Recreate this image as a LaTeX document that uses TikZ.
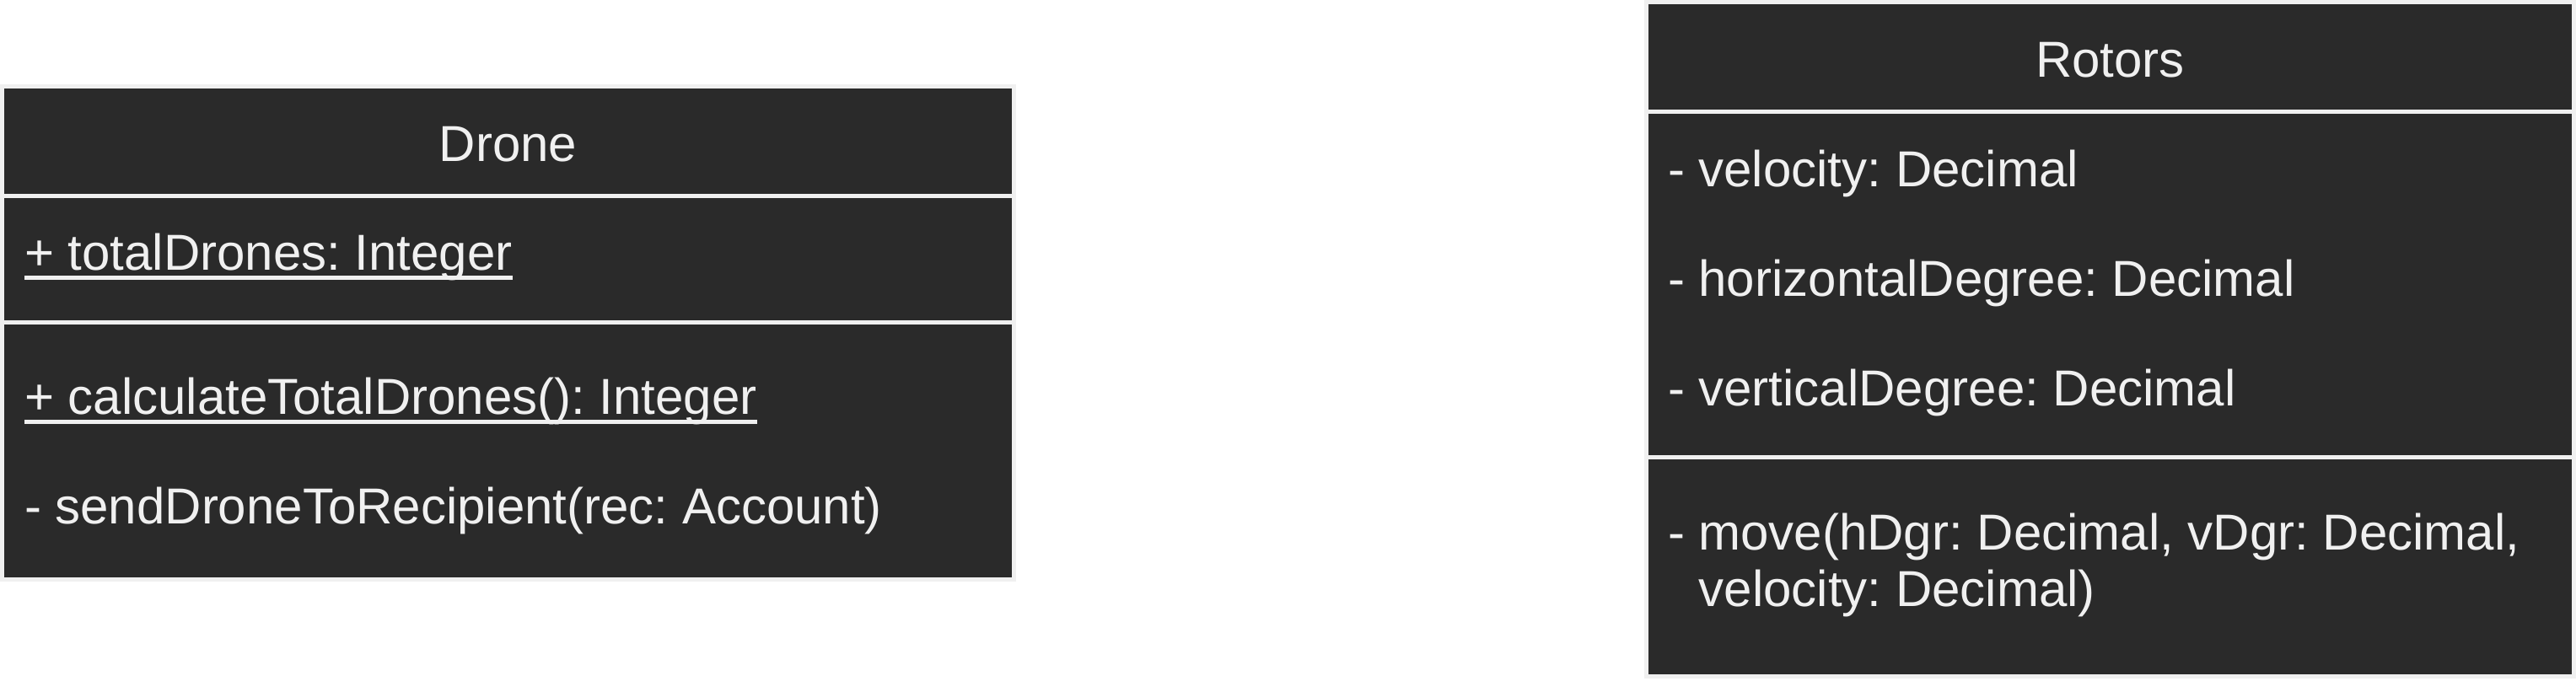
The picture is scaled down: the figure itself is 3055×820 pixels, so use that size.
\documentclass[tikz,border=0pt]{standalone}
\usepackage{fontspec}
\setmainfont{Liberation Sans}
\frenchspacing
\definecolor{boxfill}{HTML}{2A2A2A}
\definecolor{boxline}{HTML}{F0F0F0}
\begin{document}
\begin{tikzpicture}[x=0.5pt,y=-0.5pt,
  classbox/.style={draw=boxline, fill=boxfill, line width=2.5pt, inner sep=0pt, outer sep=0pt},
  divider/.style={draw=boxline, line width=2.5pt},
  txt/.style={text=boxline, inner sep=0pt, outer sep=0pt, font=\fontsize{30}{34}\selectfont\frenchspacing},
  uline/.style={draw=boxline, line width=2.3pt}]
\useasboundingbox (0,0) rectangle (3055,820);
\fill[white] (0,0) rectangle (3055,820);
% Drone class
\node[classbox, minimum width=600pt, minimum height=292.5pt] (drone) at (602.5,395) {};
\draw[divider] ([yshift=-65pt]drone.north west) -- ([yshift=-65pt]drone.north east);
\draw[divider] ([yshift=-140pt]drone.north west) -- ([yshift=-140pt]drone.north east);
\node[txt, anchor=base] (dtitle) at (602.5,191) {Drone};
\node[txt, anchor=base west] (d1) at (29,320) {+ totalDrones: Integer};
\node[txt, anchor=base west] (d2) at (29,491) {+ calculateTotalDrones(): Integer};
\node[txt, anchor=base west] (d3) at (29,621) {- sendDroneToRecipient(rec: Account)};
\draw[uline] ([yshift=-4.75pt]d1.base west) -- ([yshift=-4.75pt]d1.base east);
\draw[uline] ([yshift=-4.75pt]d2.base west) -- ([yshift=-4.75pt]d2.base east);
% Rotors class
\node[classbox, minimum width=550pt, minimum height=400pt] (rotors) at (2502.5,402.5) {};
\draw[divider] ([yshift=-65pt]rotors.north west) -- ([yshift=-65pt]rotors.north east);
\draw[divider] ([yshift=-270pt]rotors.north west) -- ([yshift=-270pt]rotors.north east);
\node[txt, anchor=base] (rtitle) at (2502.5,91) {Rotors};
\node[txt, anchor=base west] (r1) at (1978,221) {- velocity: Decimal};
\node[txt, anchor=base west] (r2) at (1978,351) {- horizontalDegree: Decimal};
\node[txt, anchor=base west] (r3) at (1978,481) {- verticalDegree: Decimal};
\node[txt, anchor=base west] (r4) at (1978,652) {- move(hDgr: Decimal, vDgr: Decimal,};
\node[txt, anchor=base west] (r5) at (1978,719) {\phantom{- }velocity: Decimal)};
\end{tikzpicture}
\end{document}
